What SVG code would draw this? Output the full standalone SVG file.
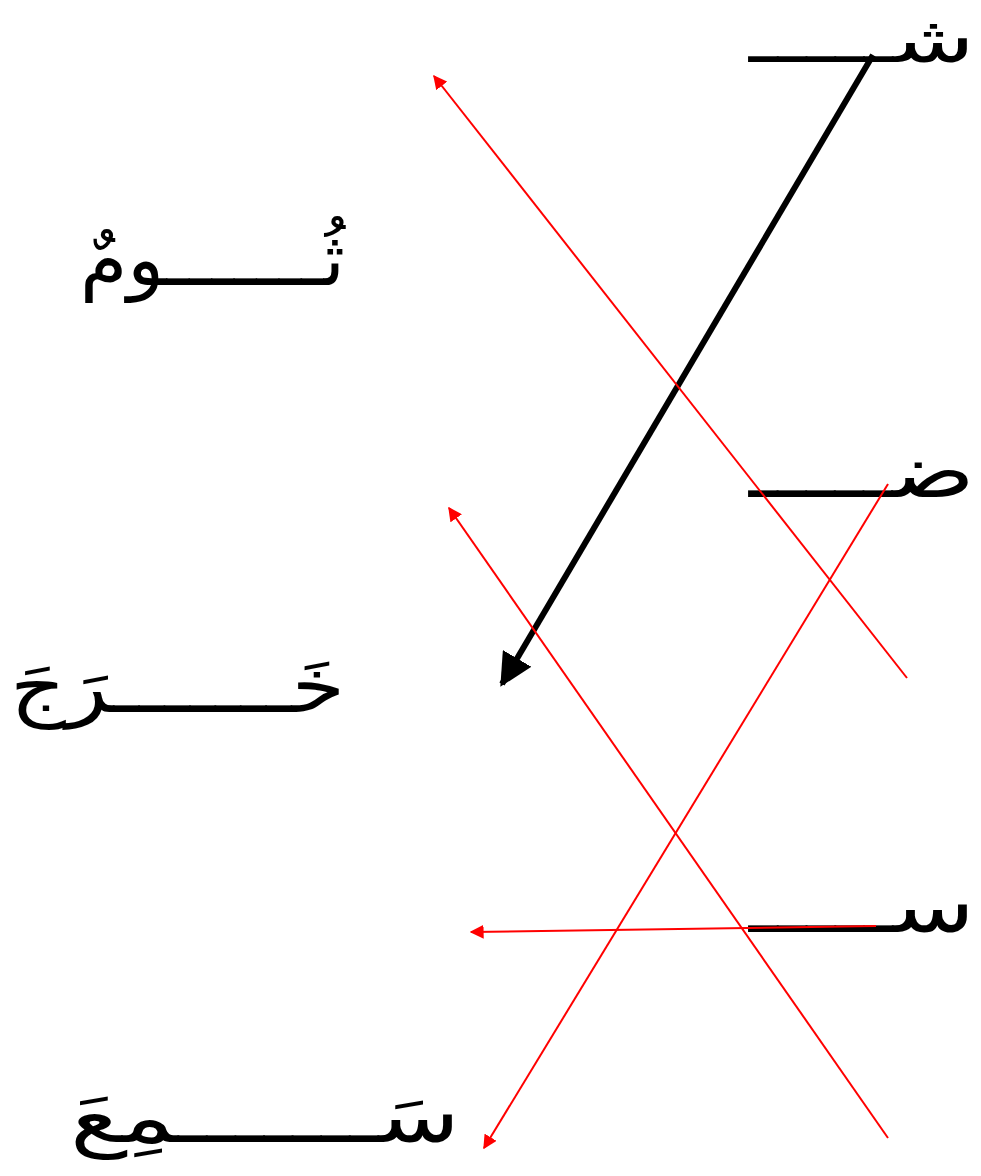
<svg xmlns="http://www.w3.org/2000/svg" width="981" height="1176" viewBox="0 0 981 1176">
<style>
text{font-family:"DejaVu Sans",sans-serif;font-size:74px;fill:#000}
.r{text-anchor:end}
.top{font-size:64px}
.red{stroke:#ff0000;stroke-width:2;fill:none}
.blk{stroke:#000;stroke-width:6;fill:none}
</style>
<defs>
<marker id="ar" viewBox="0 0 10 10" refX="9" refY="5" markerWidth="7" markerHeight="7" markerUnits="strokeWidth" orient="auto"><path d="M0,0 L10,5 L0,10 z" fill="#ff0000"/></marker>
<marker id="ab" viewBox="0 0 10 10" refX="9" refY="5" markerWidth="5.5" markerHeight="5.5" markerUnits="strokeWidth" orient="auto"><path d="M0,0 L10,5 L0,10 z" fill="#000"/></marker>
</defs>
<g id="n1"><text class="r top" x="975" y="62" textLength="226" lengthAdjust="spacingAndGlyphs">شـــــ</text></g>
<g id="n2"><text class="r" x="975" y="497" textLength="226" lengthAdjust="spacingAndGlyphs">ضـــــ</text></g>
<g id="n3"><text class="r" x="975" y="932" textLength="226" lengthAdjust="spacingAndGlyphs">ســـــ</text></g>
<g id="n4"><text class="r" x="345" y="285" textLength="265" lengthAdjust="spacingAndGlyphs">ثُـــــــومٌ</text></g>
<g id="n5"><text class="r" x="345" y="712" textLength="335" lengthAdjust="spacingAndGlyphs">خَـــــــرَجَ</text></g>
<g id="n6"><text class="r" x="460" y="1142" textLength="390" lengthAdjust="spacingAndGlyphs">سَـــــــمِعَ</text></g>
<g id="connectors">
<line class="blk" x1="873" y1="55" x2="502" y2="684" marker-end="url(#ab)"/>
<line class="red" x1="907" y1="678" x2="434" y2="76" marker-end="url(#ar)"/>
<line class="red" x1="888" y1="1138" x2="449" y2="508" marker-end="url(#ar)"/>
<line class="red" x1="876" y1="926" x2="471" y2="932" marker-end="url(#ar)"/>
<line class="red" x1="888" y1="484" x2="484" y2="1148" marker-end="url(#ar)"/>
</g>
</svg>
